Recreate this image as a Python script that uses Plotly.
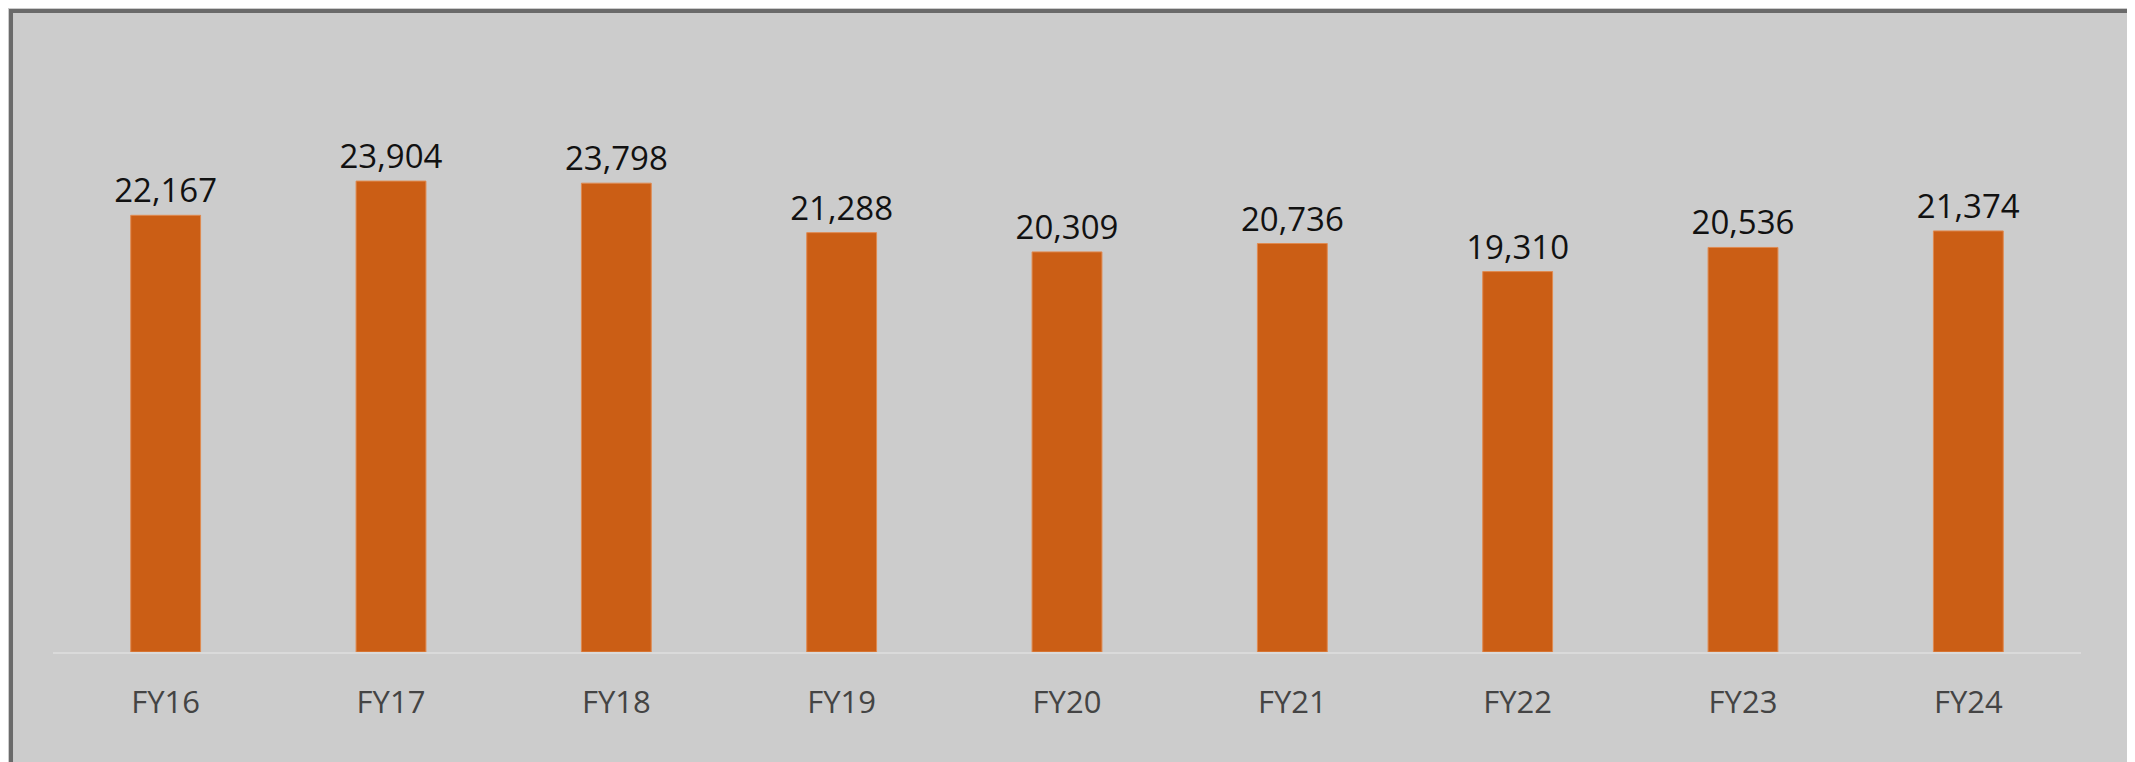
import plotly.graph_objects as go

years = ["FY16", "FY17", "FY18", "FY19", "FY20", "FY21", "FY22", "FY23", "FY24"]
values = [22167, 23904, 23798, 21288, 20309, 20736, 19310, 20536, 21374]

fig = go.Figure(go.Bar(
    x=years, y=values,
    marker=dict(color="#CB5E15", line=dict(color="#E08A50", width=1)),
    text=[f"{v:,}" for v in values], textposition="outside",
    textfont=dict(family="Open Sans", size=33, color="#111111"),
    constraintext="none", cliponaxis=False,
))

fig.update_layout(
    width=2135, height=762,
    paper_bgcolor="#CCCCCC", plot_bgcolor="#CCCCCC",
    margin=dict(l=45, r=62, t=53, b=118),
    bargap=0.69, showlegend=False,
    xaxis=dict(showline=True, linecolor="#DADADA", linewidth=2,
               tickfont=dict(family="Open Sans", size=31, color="#444444"),
               ticks="", ticklabelstandoff=22),
    yaxis=dict(range=[0, 30000], visible=False),
    shapes=[dict(type="rect", xref="paper", yref="paper", x0=-0.0207, x1=1.029,
                 y0=-0.195, y1=1.0846, line=dict(color="#6A6A6A", width=4))],
)

fig.write_html("out.html")
